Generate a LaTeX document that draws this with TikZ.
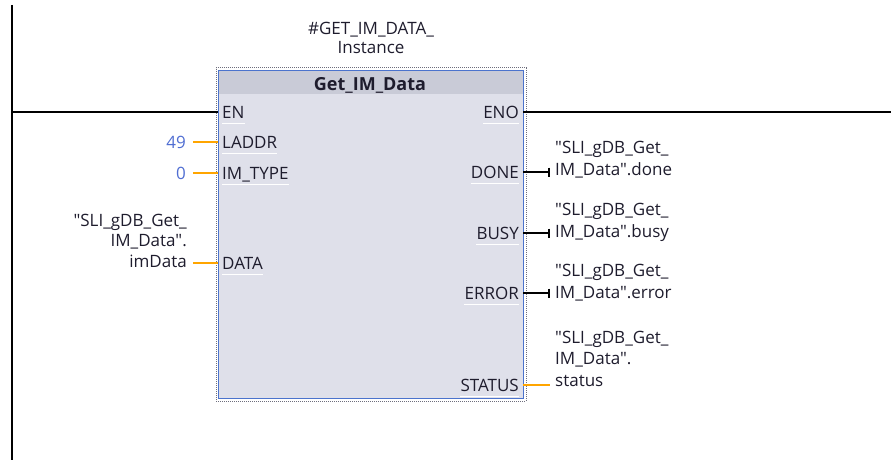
\documentclass[tikz,border=0pt]{standalone}
\usepackage{fontspec}
\setmainfont{Open Sans}[Ligatures=TeXOff]
\usetikzlibrary{arrows.meta}
\definecolor{txt}{RGB}{30,28,45}
\definecolor{numblue}{RGB}{80,110,210}
\definecolor{worange}{RGB}{255,165,0}
\definecolor{bodyfill}{RGB}{223,224,234}
\definecolor{bandfill}{RGB}{201,203,215}
\definecolor{bblue}{RGB}{75,115,205}
\definecolor{dgrey}{RGB}{110,110,125}
\begin{document}
\begin{tikzpicture}[x=1pt,y=-1pt,font=\fontsize{17}{22}\selectfont,
  rail/.style={line width=2.6pt,black},
  wire/.style={line width=2.2pt,black},
  owire/.style={line width=2.2pt,worange},
  tickwire/.style={wire,-{Bar[width=9pt,line width=2.2pt]}},
  pinl/.style={anchor=base west,inner sep=0pt,text=txt},
  pinr/.style={anchor=base east,inner sep=0pt,text=txt},
  numl/.style={anchor=east,inner xsep=7pt,inner ysep=0pt,text=numblue},
  outlab/.style={anchor=base west,inner sep=0pt,align=left,text=txt},
  seprule/.style={white,line width=0.8pt}]
\useasboundingbox (0,0) rectangle (891,460);
% power rail
\coordinate (railtop) at (12,5);
\coordinate (railbot) at (12,460);
\draw[rail] (railtop) -- (railbot);
% instance name
\node[anchor=base,inner sep=0pt,align=center,text=txt,font=\fontsize{17}{19.5}\selectfont] (inst) at (371,54) {\#GET\_IM\_DATA\_\\Instance};
% block
\node[draw=dgrey,densely dotted,line width=1pt,minimum width=310,minimum height=333,anchor=north west,inner sep=0pt] (outer) at (215.5,67.5) {};
\node[fill=bodyfill,draw=bblue,line width=1.4pt,minimum width=305,minimum height=328,anchor=north west,inner sep=0pt] (blk) at (218,70) {};
\node[fill=bandfill,minimum width=303.6,minimum height=23,anchor=north west,inner sep=0pt] (band) at (218.7,70.7) {};
\node[anchor=base,inner sep=0pt,text=txt,font=\fontsize{18}{22}\selectfont\bfseries] (title) at (370,90) {Get\_IM\_Data};
% pin labels
\node[pinl] (en) at (222,118) {EN};
\node[pinl] (laddr) at (222,148.5) {LADDR};
\node[pinl] (imtype) at (222,179) {IM\_TYPE};
\node[pinl] (data) at (222,269.5) {DATA};
\node[pinr] (eno) at (519,118) {ENO};
\node[pinr] (done) at (519,178) {DONE};
\node[pinr] (busy) at (519,239) {BUSY};
\node[pinr] (error) at (519,299.5) {ERROR};
\node[pinr] (status) at (519,391) {STATUS};
\foreach \p in {en,laddr,imtype,data}{
  \draw[seprule] ([yshift=-5pt]\p.base west) -- ([yshift=-5pt]\p.base east);}
\foreach \p in {eno,done,busy,error,status}{
  \draw[seprule] ([yshift=-5pt]\p.base west) -- ([yshift=-5pt]\p.base east);}
% pin connection points
\coordinate (enIn) at (218,112);
\coordinate (laddrIn) at (218,142);
\coordinate (imtypeIn) at (218,173);
\coordinate (dataIn) at (218,263);
\coordinate (enoOut) at (523,112);
\coordinate (doneOut) at (523,172);
\coordinate (busyOut) at (523,233);
\coordinate (errorOut) at (523,293);
\coordinate (statusOut) at (523,385);
% rung
\coordinate (railEN) at (12,112);
\coordinate (rungEnd) at (891,112);
\draw[wire] (railEN) -- (enIn);
\draw[wire] (enoOut) -- (rungEnd);
% inputs
\node[numl] (n49) at (193,142) {49};
\node[numl] (n0) at (193,173) {0};
\draw[owire] (n49.east) -- (laddrIn);
\draw[owire] (n0.east) -- (imtypeIn);
\node[anchor=base east,inner sep=0pt,align=right,text=txt,font=\fontsize{17}{20.5}\selectfont] (dlab) at (187,267) {"SLI\_gDB\_Get\_\\IM\_Data".\\imData};
\coordinate (dataSrc) at (193,263);
\draw[owire] (dataSrc) -- (dataIn);
% outputs
\coordinate (doneEnd) at (550,172);
\coordinate (busyEnd) at (550,233);
\coordinate (errorEnd) at (550,293);
\coordinate (statusEnd) at (550,385);
\draw[tickwire] (doneOut) -- (doneEnd);
\draw[tickwire] (busyOut) -- (busyEnd);
\draw[tickwire] (errorOut) -- (errorEnd);
\draw[owire] (statusOut) -- (statusEnd);
\node[outlab] (doneLab) at (555,175) {"SLI\_gDB\_Get\_\\IM\_Data".done};
\node[outlab] (busyLab) at (555,237) {"SLI\_gDB\_Get\_\\IM\_Data".busy};
\node[outlab] (errorLab) at (555,298) {"SLI\_gDB\_Get\_\\IM\_Data".error};
\node[outlab,font=\fontsize{17}{21.5}\selectfont] (statusLab) at (555,386) {"SLI\_gDB\_Get\_\\IM\_Data".\\status};
\end{tikzpicture}
\end{document}
